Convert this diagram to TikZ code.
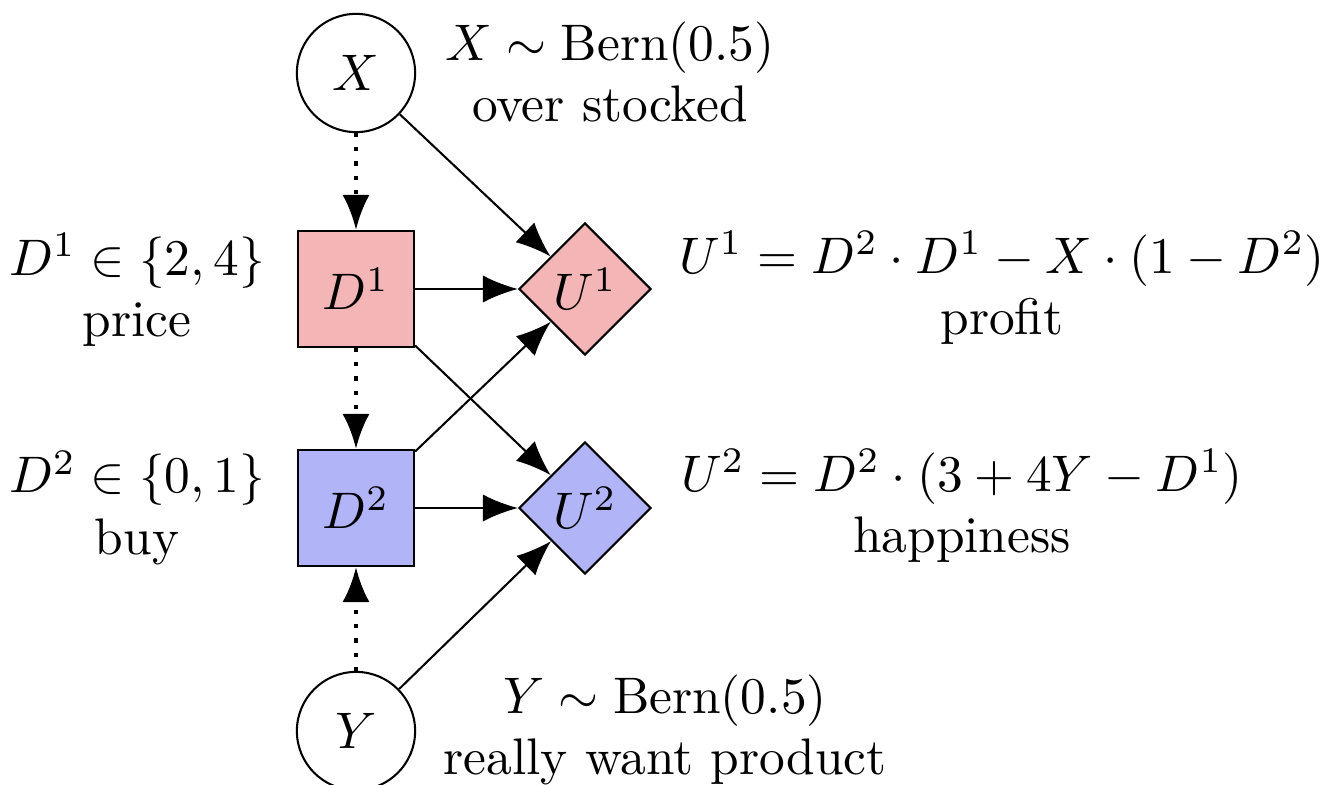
\documentclass[tikz,border=0pt]{standalone}
\usetikzlibrary{shapes.geometric,arrows.meta}
\definecolor{dpink}{RGB}{243,181,181}
\definecolor{dblue}{RGB}{178,180,248}
\begin{document}
\begin{tikzpicture}[x=0.1945pt,y=-0.1945pt,
  chance/.style={circle,draw,minimum size=23pt,inner sep=0pt,fill=white},
  decision/.style={rectangle,draw,minimum size=22.6pt,inner sep=0pt},
  utility/.style={diamond,draw,minimum size=25.7pt,inner sep=0pt,aspect=1},
  tipstyle/.style={-{Latex[length=6.8pt,width=5.3pt]}},
  info/.style={tipstyle,line width=0.8pt,dash pattern=on 0.8pt off 1.95pt},
  causal/.style={tipstyle},
  lbl/.style={align=center,inner sep=0pt}]
\useasboundingbox (0,0) rectangle (1325,784);
\clip (0,0) rectangle (1325,784);
% nodes
\node[chance] (X) at (356,73) {$X$};
\node[decision,fill=dpink] (D1) at (356,289) {$D^1$};
\node[decision,fill=dblue] (D2) at (356,508) {$D^2$};
\node[chance] (Y) at (356,731) {$Y$};
\node[utility,fill=dpink] (U1) at (585,289) {$U^1$};
\node[utility,fill=dblue] (U2) at (585,508) {$U^2$};
% labels
\node[lbl] (LX) at (610,72) {$X \sim \mathrm{Bern}(0.5)$\\over stocked};
\node[lbl] (LD1) at (137,290) {$D^1 \in \{2,4\}$\\price};
\node[lbl] (LD2) at (137,508) {$D^2 \in \{0,1\}$\\buy};
\node[lbl] (LU1) at (1002,288) {$U^1 = D^2\cdot D^1 - X\cdot(1-D^2)$\\profit};
\node[lbl] (LU2) at (962,506) {$U^2 = D^2\cdot(3+4Y-D^1)$\\happiness};
\node[lbl] (LY) at (665,730) {$Y \sim \mathrm{Bern}(0.5)$\\really want product};
% edges
\draw[info] (X) -- (D1);
\draw[info] (D1) -- (D2);
\draw[info] (Y) -- (D2);
\draw[causal] (X) -- (U1);
\draw[causal] (D1) -- (U1);
\draw[causal] (D1) -- (U2);
\draw[causal] (D2) -- (U1);
\draw[causal] (D2) -- (U2);
\draw[causal] (Y) -- (U2);
\end{tikzpicture}
\end{document}
